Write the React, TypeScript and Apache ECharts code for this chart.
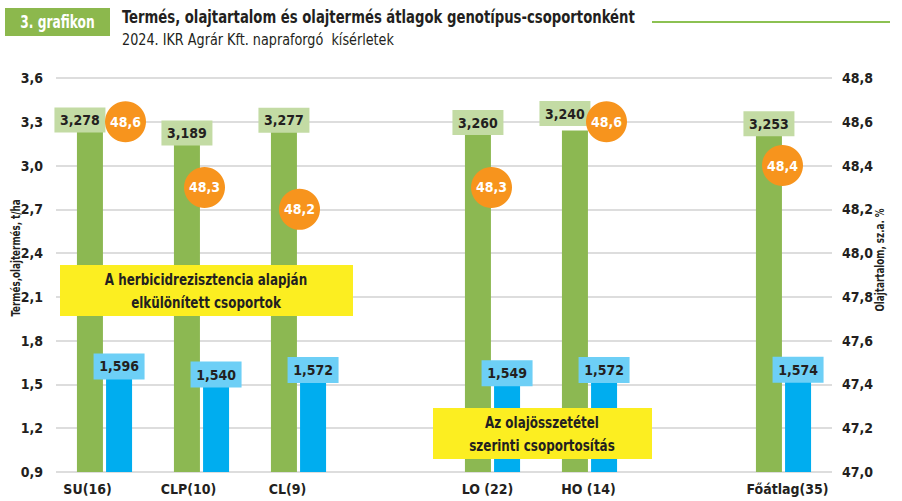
import React, { useEffect, useRef } from "react";
import * as echarts from "echarts";

// ---- data ----
const categories = ["SU(16)", "CLP(10)", "CL(9)", " ", "LO (22)", "HO (14)", "  ", "Főátlag(35)"];
const yieldValues = [3.278, 3.189, 3.277, null, 3.26, 3.24, null, 3.253];
const oilYieldValues = [1.596, 1.54, 1.572, null, 1.549, 1.572, null, 1.574];
const oilContentValues = [48.6, 48.3, 48.2, null, 48.3, 48.6, null, 48.4];
const leftTicks = { min: 0.9, max: 3.6, interval: 0.3 };
const rightTicks = { min: 47.0, max: 48.8, interval: 0.2 };

const titleText = "Termés, olajtartalom és olajtermés átlagok genotípus-csoportonként";
const subtitleText = "2024. IKR Agrár Kft. napraforgó  kísérletek";
const badgeText = "3. grafikon";
const leftName = "Termés,olajtermés, t/ha";
const rightName = "Olajtartalom, sz.a. %";
const note1 = "A herbicidrezisztencia alapján\nelkülönített csoportok";
const note2 = "Az olajösszetétel\nszerinti csoportosítás";

// ---- styling helpers (positions/offsets, not data) ----
const FONT = "'Liberation Sans Narrow', 'DejaVu Sans Condensed', 'Roboto Condensed', 'Noto Sans', sans-serif";
const TEXT = "#231f20";
const labelShiftX = [-17, -13, -11, 0, -5, -1, 0, 4];
const greenLabelOffset = [[-10, 0], [0, 0], [0, 0], [0, 0], [0, 0], [-10, -12], [0, 0], [0, 0]];
const circleOffsetX = [21, 3, 1, 0, -1, 17, 0, -1];

const fmt = (v: number, d: number) => v.toFixed(d).replace(".", ",");

export default function App() {
  const ref = useRef<HTMLDivElement>(null);
  useEffect(() => {
    if (!ref.current) return;
    const chart = echarts.init(ref.current, null, { renderer: "svg" });
    const option: any = {
      animation: false,
      backgroundColor: "#ffffff",
      textStyle: { fontFamily: FONT },
      grid: { left: 56, right: 70, top: 78, bottom: 29, containLabel: false },
      xAxis: {
        type: "category",
        data: categories.map((c, i) => {
          const s = labelShiftX[i];
          return {
            value: c,
            textStyle: { padding: s < 0 ? [0, -2 * s, 0, 0] : [0, 0, 0, 2 * s] },
          };
        }),
        axisLine: { show: false },
        axisTick: { show: false },
        axisLabel: { interval: 0, margin: 10, fontSize: 14, fontWeight: "bold", color: TEXT, fontFamily: FONT },
        splitLine: { show: false },
      },
      yAxis: [
        {
          type: "value",
          min: leftTicks.min,
          max: leftTicks.max,
          interval: leftTicks.interval,
          axisLine: { show: false },
          axisTick: { show: false },
          axisLabel: { margin: 13, fontSize: 14, fontWeight: "bold", color: TEXT, fontFamily: FONT, formatter: (v: number) => fmt(v, 1) },
          splitLine: { show: true, lineStyle: { color: "#d2d2d2", width: 1.5 } },
        },
        {
          type: "value",
          min: rightTicks.min,
          max: rightTicks.max,
          interval: rightTicks.interval,
          position: "right",
          axisLine: { show: false },
          axisTick: { show: false },
          axisLabel: { margin: 10, fontSize: 14, fontWeight: "bold", color: TEXT, fontFamily: FONT, formatter: (v: number) => fmt(v, 1) },
          splitLine: { show: false },
        },
      ],
      series: [
        {
          type: "bar",
          name: "Termés",
          yAxisIndex: 0,
          barWidth: 26,
          barGap: "12%",
          itemStyle: { color: "#8cb852" },
          data: yieldValues.map((v, i) => ({
            value: v,
            label: { offset: greenLabelOffset[i] },
          })),
          label: {
            show: true,
            position: "top",
            distance: 5,
            formatter: (p: any) => fmt(p.value, 3),
            backgroundColor: "#c3dba4",
            color: TEXT,
            fontSize: 14,
            fontWeight: "bold",
            fontFamily: FONT,
            width: 51,
            height: 25,
            lineHeight: 25,
            align: "center",
            verticalAlign: "middle",
          },
          z: 2,
        },
        {
          type: "bar",
          name: "Olajtermés",
          yAxisIndex: 0,
          barWidth: 26,
          itemStyle: { color: "#00adef" },
          data: oilYieldValues,
          label: {
            show: true,
            position: "top",
            distance: 4,
            formatter: (p: any) => fmt(p.value, 3),
            backgroundColor: "#6dcff6",
            color: TEXT,
            fontSize: 14,
            fontWeight: "bold",
            fontFamily: FONT,
            width: 51,
            height: 26,
            lineHeight: 26,
            align: "center",
            verticalAlign: "middle",
          },
          z: 2,
        },
        {
          type: "scatter",
          name: "Olajtartalom",
          yAxisIndex: 1,
          symbol: "circle",
          symbolSize: 41,
          itemStyle: { color: "#f7941d", opacity: 1 },
          data: oilContentValues.map((v, i) => ({
            value: v,
            symbolOffset: [circleOffsetX[i], 0],
          })),
          label: {
            show: true,
            position: "inside",
            formatter: (p: any) => fmt(p.value, 1),
            color: "#ffffff",
            fontSize: 14,
            fontWeight: "bold",
            fontFamily: FONT,
          },
          z: 5,
        },
      ],
      graphic: [
        {
          type: "rect",
          shape: { x: 5, y: 8, width: 105, height: 28 },
          style: { fill: "#8cb84d" },
          z: 100,
        },
        {
          type: "text",
          x: 57.5,
          y: 22,
          scaleX: 0.8,
          style: { text: badgeText, fill: "#ffffff", font: `bold 17px ${FONT}`, textAlign: "center", textVerticalAlign: "middle" },
          z: 101,
        },
        {
          type: "text",
          x: 122,
          y: 17,
          scaleX: 0.817,
          style: { text: titleText, fill: TEXT, font: `bold 18px ${FONT}`, textAlign: "left", textVerticalAlign: "middle" },
          z: 101,
        },
        {
          type: "text",
          x: 122,
          y: 40,
          scaleX: 0.89,
          style: { text: subtitleText, fill: TEXT, font: `16px ${FONT}`, textAlign: "left", textVerticalAlign: "middle" },
          z: 101,
        },
        {
          type: "line",
          shape: { x1: 652, y1: 22, x2: 890, y2: 22 },
          style: { stroke: "#8cc152", lineWidth: 2 },
          z: 100,
        },
        {
          type: "text",
          x: 15,
          y: 258,
          rotation: Math.PI / 2,
          scaleX: 0.75,
          style: { text: leftName, fill: TEXT, font: `bold 13px ${FONT}`, textAlign: "center", textVerticalAlign: "middle" },
          z: 101,
        },
        {
          type: "text",
          x: 879,
          y: 260,
          rotation: Math.PI / 2,
          scaleX: 0.75,
          style: { text: rightName, fill: TEXT, font: `bold 13px ${FONT}`, textAlign: "center", textVerticalAlign: "middle" },
          z: 101,
        },
        {
          type: "rect",
          shape: { x: 60, y: 265, width: 293, height: 51 },
          style: { fill: "#fcee21" },
          z: 100,
        },
        {
          type: "text",
          x: 206,
          y: 291,
          scaleX: 0.83,
          style: { text: note1, fill: TEXT, font: `bold 16px ${FONT}`, textAlign: "center", textVerticalAlign: "middle", lineHeight: 23 },
          z: 101,
        },
        {
          type: "rect",
          shape: { x: 433, y: 408, width: 219, height: 51 },
          style: { fill: "#fcee21" },
          z: 100,
        },
        {
          type: "text",
          x: 542,
          y: 434,
          scaleX: 0.83,
          style: { text: note2, fill: TEXT, font: `bold 16px ${FONT}`, textAlign: "center", textVerticalAlign: "middle", lineHeight: 23 },
          z: 101,
        },
      ],
    };
    chart.setOption(option);
    return () => chart.dispose();
  }, []);
  return (
    <div
      ref={ref}
      style={{ position: "fixed", left: 0, top: 0, width: 902, height: 501, background: "#ffffff" }}
    />
  );
}
